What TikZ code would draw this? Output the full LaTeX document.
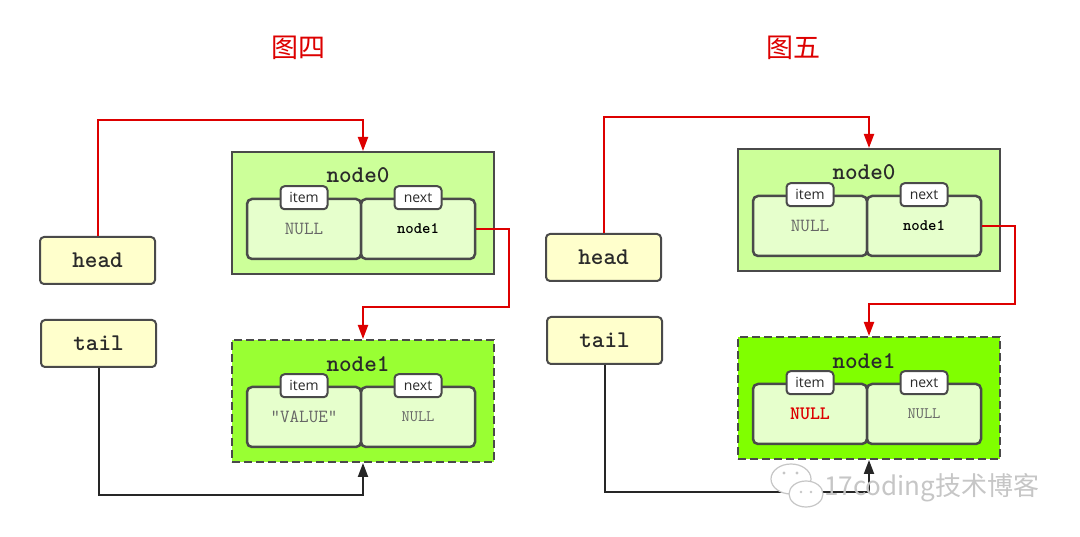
\documentclass[tikz,border=0pt]{standalone}
\usepackage{fontspec}
\setmainfont{Liberation Sans}
\newfontfamily\tabf{Open Sans}
\newfontfamily\cjkf{Noto Sans CJK SC}
\usetikzlibrary{arrows.meta}
\definecolor{ptrbox}{HTML}{FFFFCC}
\definecolor{boxline}{HTML}{4A4A4A}
\definecolor{nzfill}{HTML}{CCFF99}
\definecolor{cellfill}{HTML}{E6FFCC}
\definecolor{noafill}{HTML}{99FF33}
\definecolor{nobfill}{HTML}{80FF00}
\definecolor{arrowred}{HTML}{DD0000}
\definecolor{textdark}{HTML}{2A2A2A}
\definecolor{nullgray}{HTML}{666666}
\tikzset{
  ptr/.style={draw=boxline, line width=2pt, fill=ptrbox, rounded corners=4pt,
    minimum width=115pt, minimum height=47pt, inner sep=0pt,
    font=\ttfamily\bfseries\fontsize{24}{24}\selectfont, text=textdark},
  outerz/.style={draw=boxline, line width=2pt, fill=nzfill,
    minimum width=262pt, minimum height=122pt, inner sep=0pt},
  outerdash/.style={outerz, dash pattern=on 8pt off 4pt},
  cell/.style={draw=boxline, line width=2.5pt, fill=cellfill, rounded corners=5pt,
    minimum width=114pt, minimum height=60pt, inner sep=0pt},
  tab/.style={draw=boxline, line width=2pt, fill=white, rounded corners=4pt,
    minimum width=47pt, minimum height=23pt, inner sep=0pt,
    font=\tabf\fontsize{14}{14}\selectfont, text=textdark},
  nodetitle/.style={font=\ttfamily\bfseries\fontsize{24}{24}\selectfont, text=textdark},
  nulltxt/.style={font=\ttfamily\fontsize{18.5}{18.5}\selectfont, text=nullgray},
  smallnull/.style={font=\ttfamily\fontsize{16}{16}\selectfont, text=nullgray},
  reftxt/.style={font=\ttfamily\bfseries\fontsize{16}{16}\selectfont, text=black},
  rednull/.style={font=\ttfamily\bfseries\fontsize{19}{19}\selectfont, text=arrowred},
  redarrow/.style={draw=arrowred, line width=2pt, -{Triangle[length=14pt,width=10pt]}},
  blackarrow/.style={draw=black!85, line width=2pt, -{Triangle[length=14pt,width=10pt]}},
  figtitle/.style={font=\cjkf\fontsize{27}{27}\selectfont, text=arrowred},
}
% #1 prefix, #2 style of node1 item text, #3 node1 item text, #4 node1 fill
\newcommand\drawpanel[4]{%
  \node[ptr] (#1head) at (97.5,260.5) {head};
  \node[ptr] (#1tail) at (98.5,343.5) {tail};
  % node0
  \node[outerz] (#1nz) at (363,213) {};
  \node[nodetitle] (#1nzt) at (358,175) {node0};
  \node[cell, nulltxt] (#1nzi) at (304,229) {NULL};
  \node[cell, reftxt] (#1nzn) at (418,229) {node1};
  \node[tab] (#1nzit) at (#1nzi.north) {item};
  \node[tab] (#1nznt) at (#1nzn.north) {next};
  % node1
  \node[outerdash, fill=#4] (#1no) at (363,401) {};
  \node[nodetitle] (#1not) at (358,364) {node1};
  \node[cell, #2] (#1noi) at (304,417) {#3};
  \node[cell, smallnull] (#1non) at (418,417) {NULL};
  \node[tab] (#1noit) at (#1noi.north) {item};
  \node[tab] (#1nont) at (#1non.north) {next};
  % connectors
  \coordinate (#1c1) at (0,120);
  \coordinate (#1c2) at (509,307);
  \coordinate (#1c3) at (0,495);
  \draw[redarrow] (#1head.north) -- (#1head.north |- #1c1) -| (#1nz.north);
  \draw[redarrow] (#1nzn.east) -| (#1c2) -| (#1no.north);
  \draw[blackarrow] (#1tail.south) -- (#1tail.south |- #1c3) -| (#1no.south);
}
\begin{document}
\begin{tikzpicture}[x=1pt,y=-1pt]
\useasboundingbox (0,0) rectangle (1080,537);
\fill[white] (0,0) rectangle (1080,537);
\node[figtitle] (t4) at (298,48) {图四};
\node[figtitle] (t5) at (793,48) {图五};
\begin{scope}
  \drawpanel{a}{nulltxt}{"VALUE"}{noafill}
\end{scope}
\begin{scope}[shift={(506,-3)}]
  \drawpanel{b}{rednull}{NULL}{nobfill}
\end{scope}
% watermark
\begin{scope}
  \fill[white, draw=gray!45, line width=1.2pt] (791,479) ellipse (20pt and 15pt);
  \fill[white, draw=gray!45, line width=1.2pt] (806,494) ellipse (17pt and 13pt);
  \fill[gray!45] (784,473) circle (1.6pt) (797,473) circle (1.6pt);
  \fill[gray!45] (801,492) circle (1.3pt) (811,492) circle (1.3pt);
  \node[font=\cjkf\fontsize{26}{26}\selectfont, text=gray!45, anchor=west, inner sep=0pt] (wm) at (824,488) {17coding技术博客};
\end{scope}
\end{tikzpicture}
\end{document}
